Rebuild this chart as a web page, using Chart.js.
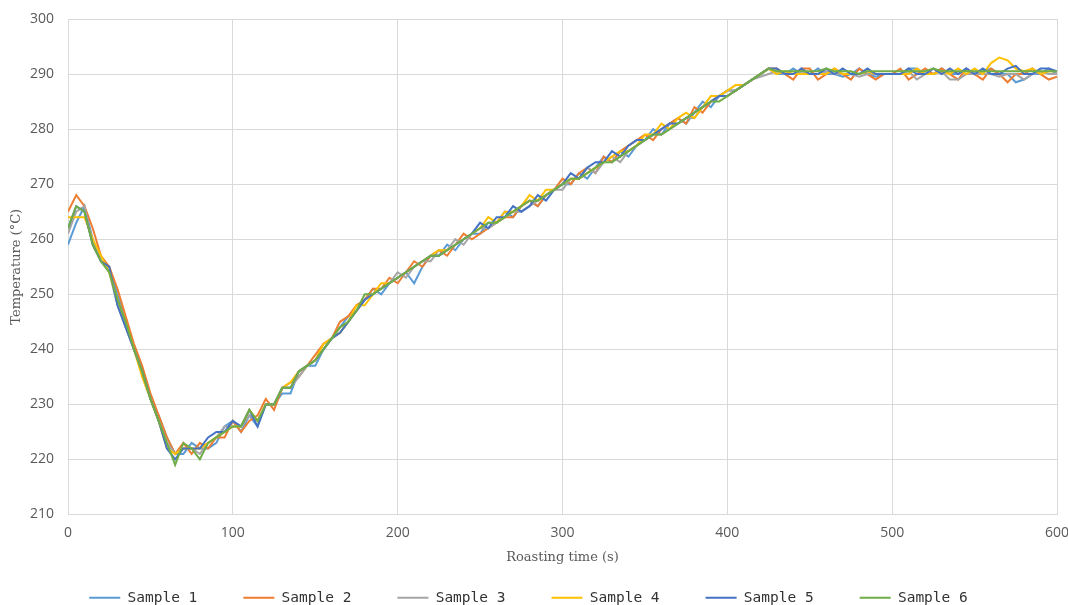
<!DOCTYPE html>
<html>
<head>
<meta charset="utf-8">
<script src="https://cdn.jsdelivr.net/npm/chart.js@4.4.1/dist/chart.umd.min.js"></script>
<style>
html,body{margin:0;padding:0;background:#fff;}
#wrap{width:1068px;height:605px;position:relative;}
</style>
</head>
<body>
<div id="wrap"><canvas id="c" width="1068" height="605"></canvas></div>
<script>
// Roasting time (s)
const TIMES = [
  0,5,10,15,20,25,30,35,40,45,
  50,55,60,65,70,75,80,85,90,95,
  100,105,110,115,120,125,130,135,140,145,
  150,155,160,165,170,175,180,185,190,195,
  200,205,210,215,220,225,230,235,240,245,
  250,255,260,265,270,275,280,285,290,295,
  300,305,310,315,320,325,330,335,340,345,
  350,355,360,365,370,375,380,385,390,395,
  400,405,410,415,420,425,430,435,440,445,
  450,455,460,465,470,475,480,485,490,495,
  500,505,510,515,520,525,530,535,540,545,
  550,555,560,565,570,575,580,585,590,595,
  600
];

const SERIES_NAMES = ["Sample 1","Sample 2","Sample 3","Sample 4","Sample 5","Sample 6"];
const SERIES_COLORS = ["#5B9BD5","#ED7D31","#A5A5A5","#FFC000","#4472C4","#70AD47"];

const SAMPLE_1 = [
  259,263,266,260,256,255,250,245,240,236,
  231,228,224,221,221,223,222,222,223,226,
  227,225,228,226,230,230,232,232,236,237,
  237,240,242,244,246,247,249,251,250,252,
  253,254,252,255,257,257,259,258,260,261,
  261,263,263,265,264,266,267,266,268,269,
  270,270,272,271,273,275,274,276,275,277,
  278,280,279,281,282,281,283,285,284,286,
  287,287,288,289,290,291,290,290,291,290,
  290,291,290,290,289.5,290,291,290,289.5,290,
  290,290,291,291,290,290,291,290,290,291,
  290,290.5,291,290,290,288.5,289,290,290,291,
  290
];
const SAMPLE_2 = [
  265,268,266,262,257,255,251,246,241,237,
  232,228,224,221,223,221,223,222,224,224,
  227,225,227,228,231,229,233,234,235,237,
  239,241,242,245,246,248,249,251,251,253,
  252,254,256,255,257,258,257,259,261,260,
  261,262,263,264,264,266,267,266,268,269,
  271,270,272,273,272,275,274,276,277,278,
  279,278,280,281,282,281,284,283,285,286,
  286,287,288,289,290,291,291,290,289,291,
  291,289,290,291,290,289,291,290,289,290,
  290,291,289,290,291,290,291,290,289,291,
  290,289,291,290,288.5,290,290,291,290,289,
  289.5
];
const SAMPLE_3 = [
  261,265,266,259,256,254,248,244,240,236,
  231,227,223,221,222,222,221,223,224,226,
  226,226,228,227,230,230,233,233,235,237,
  238,240,242,243,245,247,249,250,251,252,
  254,253,255,256,256,258,258,260,259,261,
  262,262,263,264,265,265,266,267,268,269,
  269,271,271,273,272,274,275,274,276,277,
  278,279,279,280,281,282,282,284,285,286,
  287,287,288,289,289.5,290,290.5,290,290,290.5,
  290,290,290.5,290,290,290,289.5,290,290,290,
  290,290,290.5,289,290,290,290.5,289,289,290,
  290,290,290,289.5,290,290,289,290,290.5,290,
  290
];
const SAMPLE_4 = [
  264,264,264,260,257,254,249,245,240,235,
  231,227,222,221,222,222,222,223,224,225,
  226,226,229,227,230,230,233,234,236,237,
  238,241,242,243,245,248,248,250,252,252,
  253,254,255,256,257,258,258,259,260,261,
  262,264,263,265,265,266,268,267,269,269,
  270,271,271,272,273,274,275,276,276,277,
  279,279,281,280,282,283,282,284,286,286,
  287,288,288,289,290,291,290,290.5,290,290,
  290,290,290,291,290,290,290,290.5,290,290,
  290,290,290,291,290,290,290.5,290,291,290,
  291,290,292,293,292.5,291,290.5,291,290,290.5,
  290.5
];
const SAMPLE_5 = [
  262,266,265,259,256,255,248,244,240,236,
  231,227,222,220,222,222,222,224,225,225,
  227,226,229,226,230,230,233,233,236,237,
  238,240,242,243,245,247,249,250,251,252,
  253,254,255,256,257,257,258,259,260,261,
  263,262,264,264,266,265,266,268,267,269,
  270,272,271,273,274,274,276,275,277,278,
  278,279,280,281,281,282,283,284,285,286,
  286,287,288,289,290,291,291,290,290,291,
  290,290,291,290,291,290,290,291,290,290,
  290,290,291,290,290,291,290,291,290,291,
  290,291,290,290,291,291.5,290,290,291,291,
  290.5
];
const SAMPLE_6 = [
  262,266,265,259,256,254,249,245,240,236,
  231,227,223,219,223,222,220,223,224,225,
  226,226,229,227,230,230,233,233,236,237,
  238,240,242,244,245,247,250,250,251,252,
  253,254,255,256,257,257,258,259,260,261,
  262,263,263,264,265,266,267,267,268,269,
  270,271,271,272,273,274,274,275,276,277,
  278,279,279,280,281,282,283,284,285,285,
  286,287,288,289,290,291,290.5,290.5,290.5,290.5,
  290.5,290.5,291,290.5,290.5,290.5,290,290.5,290.5,290.5,
  290.5,290.5,290.5,290.5,290.5,291,290.5,290.5,290.5,290.5,
  290.5,290.5,290.5,290.5,290.5,290.5,290.5,290.5,290.5,290.5,
  290.5
];
const ALL_SERIES = [SAMPLE_1,SAMPLE_2,SAMPLE_3,SAMPLE_4,SAMPLE_5,SAMPLE_6];

const X_TICKS = [0,100,200,300,400,500,600];
const Y_TICKS = [210,220,230,240,250,260,270,280,290,300];
const X_TITLE = "Roasting time (s)";
const Y_TITLE = "Temperature (°C)";

const datasets = ALL_SERIES.map((vals, i) => ({
  label: SERIES_NAMES[i],
  data: TIMES.map((t, j) => ({x: t, y: vals[j]})),
  borderColor: SERIES_COLORS[i],
  backgroundColor: SERIES_COLORS[i],
  borderWidth: 2,
  pointRadius: 0,
  tension: 0,
  fill: false,
  order: ALL_SERIES.length - 1 - i
}));

const GRID = "#d9d9d9";
const TICK_COLOR = "#595959";

new Chart(document.getElementById("c"), {
  type: "line",
  data: { datasets },
  options: {
    responsive: false,
    animation: false,
    devicePixelRatio: 1,
    layout: { padding: { top: 19, right: 11, left: 0, bottom: -10 } },
    plugins: {
      tooltip: { enabled: false },
      legend: {
        display: true,
        position: "bottom",
        labels: {
          boxWidth: 31,
          boxHeight: 0,
          padding: 46,
          color: "#333333",
          font: { family: "'DejaVu Sans Mono', monospace", size: 14.5 },
          sort: (a, b) => a.datasetIndex - b.datasetIndex
        }
      }
    },
    scales: {
      x: {
        type: "linear",
        min: 0, max: 600,
        afterBuildTicks: (s) => { s.ticks = X_TICKS.map(v => ({value: v})); },
        afterFit: (s) => { s.height = 30; s.paddingRight = 11; },
        grid: { color: GRID, lineWidth: 1, drawTicks: false },
        border: { color: GRID, width: 1 },
        ticks: {
          padding: 10, color: TICK_COLOR, maxRotation: 0,
          font: { family: "'Open Sans', sans-serif", size: 14 }
        },
        title: {
          display: true, text: X_TITLE, color: TICK_COLOR,
          font: { family: "'DejaVu Serif', serif", size: 13 },
          padding: { top: 0, bottom: -21 }
        }
      },
      y: {
        type: "linear",
        min: 210, max: 300,
        afterBuildTicks: (s) => { s.ticks = Y_TICKS.map(v => ({value: v})); },
        afterFit: (s) => { s.width = 68; s.paddingTop = 0; },
        grid: { color: GRID, lineWidth: 1, drawTicks: false },
        border: { color: GRID, width: 1 },
        ticks: {
          padding: 14, color: TICK_COLOR,
          font: { family: "'Open Sans', sans-serif", size: 14 }
        },
        title: {
          display: true, text: Y_TITLE, color: TICK_COLOR,
          font: { family: "'DejaVu Serif', serif", size: 13 },
          padding: { top: 9, bottom: 0 }
        }
      }
    }
  }
});
</script>
</body>
</html>
